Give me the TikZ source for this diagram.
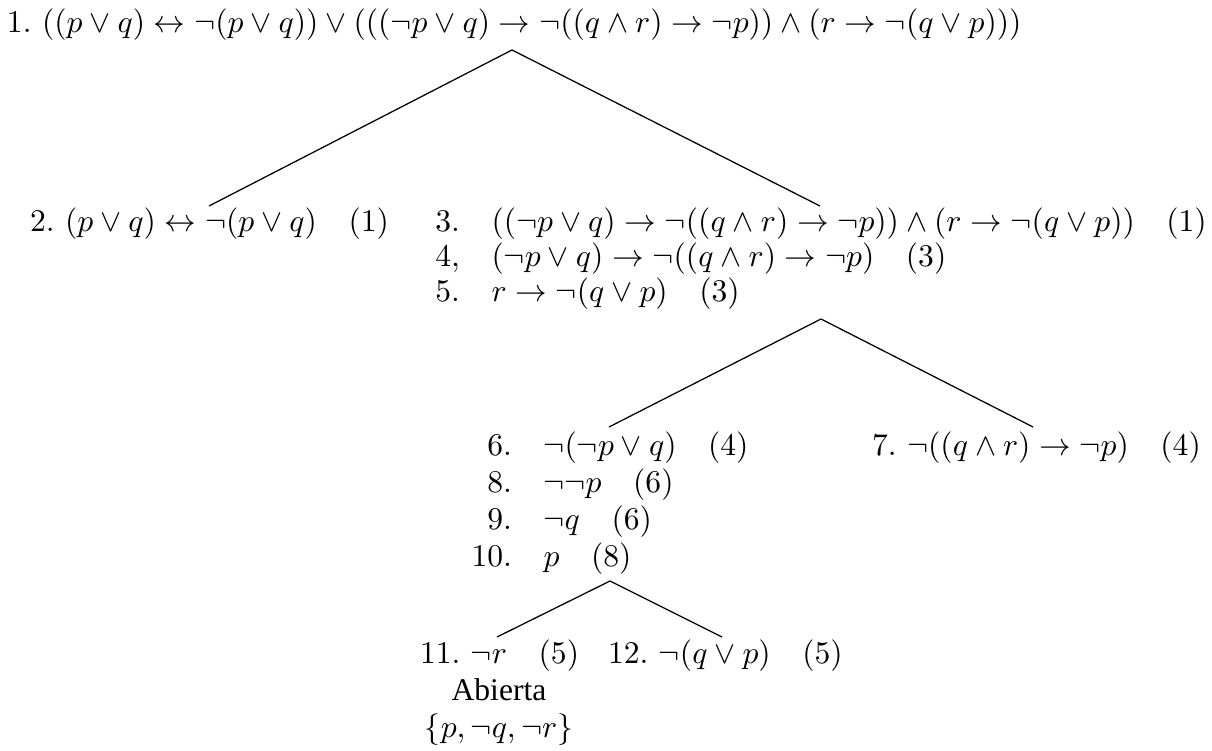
\documentclass[tikz,border=0pt]{standalone}
\usepackage{fontspec}
\newfontfamily\timesfont{Liberation Serif}
\begin{document}
\begin{tikzpicture}[x=0.3165pt,y=-0.3165pt,
  lbl/.style={inner sep=0pt,outer sep=0pt,anchor=base west},
  ctr/.style={inner sep=0pt,outer sep=0pt,anchor=base},
  branch/.style={line width=0.4pt}]
\useasboundingbox (0,0) rectangle (1212,751);
% row 1
\node[lbl] (n1) at (7,33) {$1.\ ((p\lor q)\leftrightarrow\neg(p\lor q))\lor(((\neg p\lor q)\rightarrow\neg((q\land r)\rightarrow\neg p))\land(r\rightarrow\neg(q\lor p)))$};
% rows 2-5
\node[lbl] (n2) at (30,232) {$2.\ (p\lor q)\leftrightarrow\neg(p\lor q)\quad(1)$};
\node[lbl] (n3) at (460,232) {\llap{$3.$}$\quad((\neg p\lor q)\rightarrow\neg((q\land r)\rightarrow\neg p))\land(r\rightarrow\neg(q\lor p))\quad(1)$};
\node[lbl] (n4) at (460,267) {\llap{$4,$}$\quad(\neg p\lor q)\rightarrow\neg((q\land r)\rightarrow\neg p)\quad(3)$};
\node[lbl] (n5) at (460,302) {\llap{$5.$}$\quad r\rightarrow\neg(q\lor p)\quad(3)$};
% rows 6-10
\node[lbl] (n6) at (512,455) {\llap{$6.$}$\quad\neg(\neg p\lor q)\quad(4)$};
\node[lbl] (n7) at (872,455) {$7.\ \neg((q\land r)\rightarrow\neg p)\quad(4)$};
\node[lbl] (n8) at (512,492) {\llap{$8.$}$\quad\neg\neg p\quad(6)$};
\node[lbl] (n9) at (512,529) {\llap{$9.$}$\quad\neg q\quad(6)$};
\node[lbl] (n10) at (512,566) {\llap{$10.$}$\quad p\quad(8)$};
% rows 11-12
\node[lbl] (n11) at (420,663) {$11.\ \neg r\quad(5)$};
\node[lbl] (n12) at (608,663) {$12.\ \neg(q\lor p)\quad(5)$};
\node[ctr] (ab) at (499,700) {\timesfont Abierta};
\node[ctr] (set) at (499,737) {$\{p,\neg q,\neg r\}$};
% branch points
\coordinate (a1) at (512,50);
\coordinate (e2) at (209,206);
\coordinate (e3) at (820,206);
\coordinate (a2) at (821,319);
\coordinate (e6) at (609,427);
\coordinate (e7) at (1033,427);
\coordinate (a3) at (610,581);
\coordinate (e11) at (497,637);
\coordinate (e12) at (722,637);
\draw[branch] (e2) -- (a1) -- (e3);
\draw[branch] (e6) -- (a2) -- (e7);
\draw[branch] (e11) -- (a3) -- (e12);
\end{tikzpicture}
\end{document}
